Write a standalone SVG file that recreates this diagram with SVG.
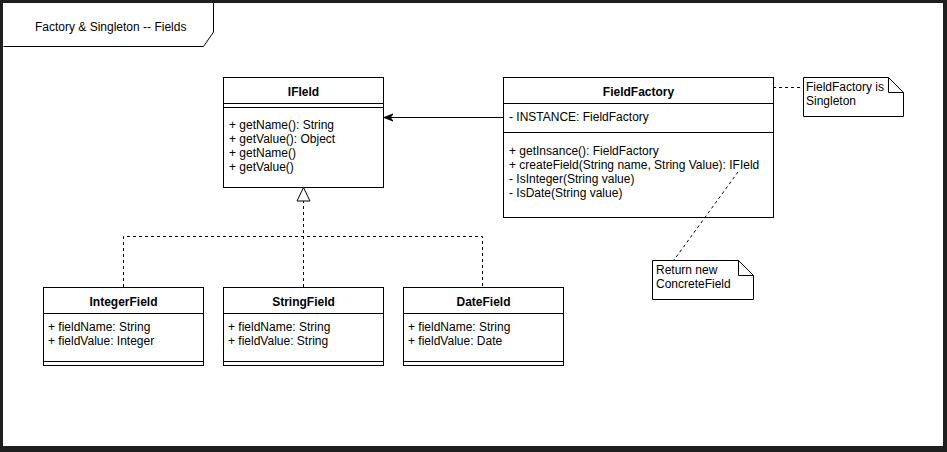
<svg xmlns="http://www.w3.org/2000/svg" width="947" height="452" viewBox="0 0 947 452">
<defs>
<style>
text{font-family:"Liberation Sans",Arial,sans-serif;font-size:12px;fill:#000}
.b{font-weight:bold;text-anchor:middle}
.box{fill:#fff;stroke:#000;stroke-width:1}
.ln{stroke:#000;stroke-width:1;fill:none}
.dash{stroke:#000;stroke-width:1;fill:none;stroke-dasharray:3 3}
</style>
<marker id="arr" viewBox="0 0 10 10" refX="10" refY="5" markerWidth="9" markerHeight="9" markerUnits="userSpaceOnUse" orient="auto">
<path d="M0,1 L10,5 L0,9 L3,5 Z" fill="#000" stroke="#000"/>
</marker>
</defs>
<rect x="0" y="0" width="947" height="452" fill="#1e1e1e"/>
<rect x="3" y="3" width="940" height="443" fill="#fff"/>
<g id="frame">
<path class="ln" d="M3.5,46.5 L203.5,46.5 L213.5,32 L213.5,3"/>
<text x="35" y="31">Factory &amp; Singleton -- Fields</text>
</g>
<g id="IField">
<rect class="box" x="223.5" y="77.5" width="160" height="110"/>
<line class="ln" x1="223.5" y1="103.5" x2="383.5" y2="103.5"/>
<line class="ln" x1="223.5" y1="107.5" x2="383.5" y2="107.5"/>
<text class="b" x="303.5" y="96">IFIeld</text>
<text x="229" y="129">+ getName(): String</text>
<text x="229" y="143">+ getValue(): Object</text>
<text x="229" y="157">+ getName()</text>
<text x="229" y="171">+ getValue()</text>
</g>
<g id="FieldFactory">
<rect class="box" x="503.5" y="77.5" width="270" height="140"/>
<line class="ln" x1="503.5" y1="103.5" x2="773.5" y2="103.5"/>
<line class="ln" x1="503.5" y1="132.5" x2="773.5" y2="132.5"/>
<text class="b" x="638.5" y="96">FieldFactory</text>
<text x="509" y="121">- INSTANCE: FieldFactory</text>
<text x="509" y="155">+ getInsance(): FieldFactory</text>
<text x="509" y="169">+ createField(String name, String Value): IFIeld</text>
<text x="509" y="183">- IsInteger(String value)</text>
<text x="509" y="197">- IsDate(String value)</text>
</g>
<g id="noteSingleton">
<path class="box" d="M803.5,77.5 L888.5,77.5 L903.5,92.5 L903.5,116.5 L803.5,116.5 Z"/>
<path class="ln" d="M888.5,77.5 L888.5,92.5 L903.5,92.5"/>
<text x="806" y="91">FieldFactory is</text>
<text x="806" y="105">Singleton</text>
</g>
<g id="noteReturn">
<path class="box" d="M652.5,260.5 L738.5,260.5 L753.5,275.5 L753.5,299.5 L652.5,299.5 Z"/>
<path class="ln" d="M738.5,260.5 L738.5,275.5 L753.5,275.5"/>
<text x="656" y="274">Return new</text>
<text x="656" y="288">ConcreteField</text>
</g>
<g id="IntegerField">
<rect class="box" x="43.5" y="287.5" width="160" height="78"/>
<line class="ln" x1="43.5" y1="313.5" x2="203.5" y2="313.5"/>
<line class="ln" x1="43.5" y1="361.5" x2="203.5" y2="361.5"/>
<text class="b" x="123.5" y="306">IntegerField</text>
<text x="48" y="331">+ fieldName: String</text>
<text x="48" y="345">+ fieldValue: Integer</text>
</g>
<g id="StringField">
<rect class="box" x="223.5" y="287.5" width="160" height="78"/>
<line class="ln" x1="223.5" y1="313.5" x2="383.5" y2="313.5"/>
<line class="ln" x1="223.5" y1="361.5" x2="383.5" y2="361.5"/>
<text class="b" x="303.5" y="306">StringField</text>
<text x="228" y="331">+ fieldName: String</text>
<text x="228" y="345">+ fieldValue: String</text>
</g>
<g id="DateField">
<rect class="box" x="403.5" y="287.5" width="160" height="78"/>
<line class="ln" x1="403.5" y1="313.5" x2="563.5" y2="313.5"/>
<line class="ln" x1="403.5" y1="361.5" x2="563.5" y2="361.5"/>
<text class="b" x="483.5" y="306">DateField</text>
<text x="408" y="331">+ fieldName: String</text>
<text x="408" y="345">+ fieldValue: Date</text>
</g>
<g id="connectors">
<line class="ln" x1="503" y1="117.5" x2="384" y2="117.5" marker-end="url(#arr)"/>
<path class="dash" d="M123.5,287 L123.5,236.5 L482.5,236.5 L482.5,287"/>
<line class="dash" x1="303.5" y1="287" x2="303.5" y2="201"/>
<path d="M303.5,187.5 L297,201 L310,201 Z" fill="#fff" stroke="#000"/>
<line class="dash" x1="773" y1="87.5" x2="803" y2="87.5"/>
<line class="dash" x1="738" y1="172" x2="674" y2="260"/>
</g>
</svg>
